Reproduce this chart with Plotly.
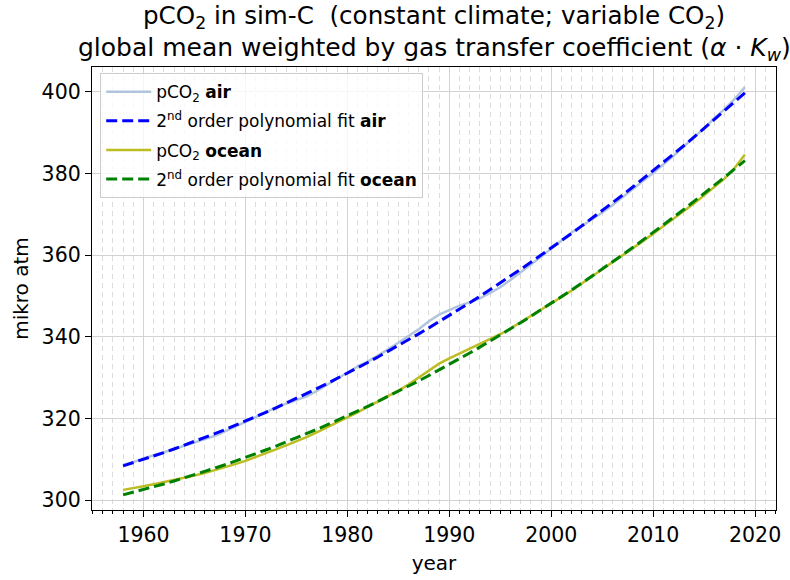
import numpy as np
import plotly.graph_objects as go

years = list(range(1958, 2020))

pco2_air = [308.6, 309.3, 310.2, 310.9, 311.7, 312.5, 313.3, 314.0, 314.8, 315.7,
            316.8, 318.0, 319.2, 320.4, 321.5, 322.7, 323.6, 324.5, 325.4, 326.7,
            328.2, 329.7, 331.3, 332.7, 333.9, 335.3, 336.9, 338.5, 340.1, 341.8,
            343.8, 345.4, 346.5, 347.6, 348.4, 349.4, 350.7, 352.1, 353.9, 355.7,
            357.7, 359.6, 361.6, 363.5, 365.5, 367.1, 368.7, 370.4, 372.2, 374.1,
            376.1, 378.1, 380.1, 382.1, 384.3, 386.6, 388.8, 391.0, 393.5, 395.7,
            398.2, 401.1]

pco2_ocean = [302.5, 302.9, 303.4, 303.9, 304.4, 304.9, 305.4, 306.0, 306.6, 307.3,
              308.0, 308.8, 309.6, 310.5, 311.4, 312.4, 313.4, 314.4, 315.4, 316.6,
              317.8, 319.0, 320.2, 321.5, 322.8, 324.1, 325.4, 326.8, 328.3, 330.0,
              331.8, 333.4, 334.7, 335.9, 337.0, 338.1, 339.3, 340.6, 342.0, 343.5,
              345.1, 346.6, 348.1, 349.7, 351.3, 353.0, 354.7, 356.4, 358.1, 359.8,
              361.6, 363.4, 365.2, 367.0, 368.8, 370.7, 372.6, 374.6, 376.6, 378.7,
              381.3, 384.6]

x_ticks = [1960, 1970, 1980, 1990, 2000, 2010, 2020]
y_ticks = [300, 320, 340, 360, 380, 400]

title_lines = [
    "pCO<sub>2</sub> in sim-C  (constant climate; variable CO<sub>2</sub>)",
    "global mean weighted by gas transfer coefficient (<i>α</i> · <i>K<sub>w</sub></i>)",
]

yr = np.array(years, dtype=float)
fit_air = np.polyval(np.polyfit(yr, pco2_air, 2), yr)
fit_ocean = np.polyval(np.polyfit(yr, pco2_ocean, 2), yr)

FONT = "DejaVu Sans"
fig = go.Figure()
fig.add_trace(go.Scatter(x=years, y=pco2_air, mode="lines",
                         line=dict(color="#b0c4de", width=2.5),
                         name="pCO<sub>2</sub> <b>air</b>", legendgroup="a"))
fig.add_trace(go.Scatter(x=years, y=fit_air, mode="lines",
                         line=dict(color="#0000ff", width=3, dash="11px,5px"),
                         name="2<sup>nd</sup> order polynomial fit <b>air</b>", legendgroup="b"))
fig.add_trace(go.Scatter(x=years, y=pco2_ocean, mode="lines",
                         line=dict(color="#bcbd22", width=2.5),
                         name="pCO<sub>2</sub> <b>ocean</b>", legendgroup="c"))
fig.add_trace(go.Scatter(x=years, y=fit_ocean, mode="lines",
                         line=dict(color="#008000", width=3, dash="11px,5px"),
                         name="2<sup>nd</sup> order polynomial fit <b>ocean</b>", legendgroup="d"))

allv = pco2_air + pco2_ocean
lo, hi = min(allv), max(allv)
pad = 0.05 * (hi - lo)
xpad = 0.05 * (years[-1] - years[0])

annotations = [
    dict(text=title_lines[0], x=0.5, xref="paper", y=1.113, yref="paper",
         xanchor="center", yanchor="middle", showarrow=False,
         font=dict(family=FONT, size=24.6, color="black")),
    dict(text=title_lines[1], x=0.5, xref="paper", y=1.040, yref="paper",
         xanchor="center", yanchor="middle", showarrow=False,
         font=dict(family=FONT, size=25, color="black")),
]

fig.update_layout(
    width=790, height=580,
    margin=dict(l=92, r=9, t=67, b=67),
    paper_bgcolor="white", plot_bgcolor="white",
    font=dict(family=FONT, size=20, color="black"),
    annotations=annotations,
    legend=dict(x=0.012, y=0.986, xanchor="left", yanchor="top",
                bgcolor="rgba(255,255,255,0.8)", bordercolor="#cccccc", borderwidth=1,
                font=dict(family=FONT, size=17, color="black"),
                tracegroupgap=4, itemwidth=45),
    showlegend=True,
)
fig.update_xaxes(
    range=[years[0] - xpad, years[-1] + xpad],
    tickvals=x_ticks, ticks="outside", ticklen=6, tickwidth=1.2, tickcolor="black",
    showline=True, linecolor="black", linewidth=1.3, mirror=True,
    showgrid=True, gridcolor="#d3d3d3", gridwidth=1.3,
    zeroline=False,
    tickfont=dict(size=20.5),
    title=dict(text="year", font=dict(size=20), standoff=10),
    minor=dict(dtick=1, tick0=1955, ticks="outside", ticklen=3, tickcolor="black",
               showgrid=True, gridcolor="#dcdcdc", griddash="5px,4px", gridwidth=1.1),
)
fig.update_yaxes(
    range=[lo - pad, hi + pad],
    tickvals=y_ticks, ticks="outside", ticklen=6, tickwidth=1.2, tickcolor="black",
    showline=True, linecolor="black", linewidth=1.3, mirror=True,
    showgrid=True, gridcolor="#d3d3d3", gridwidth=1.3,
    zeroline=False,
    tickfont=dict(size=20.5),
    title=dict(text="mikro atm", font=dict(size=20), standoff=7),
)
fig.write_html("out.html")
